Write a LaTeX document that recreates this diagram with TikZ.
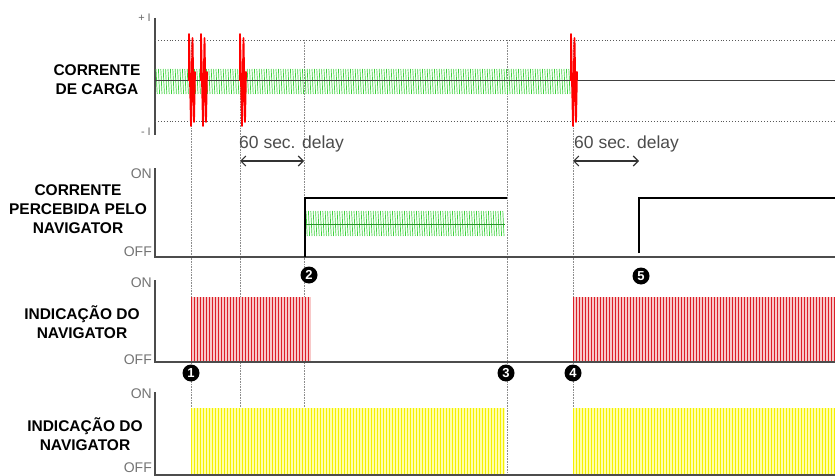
\documentclass[tikz,border=0pt]{standalone}
\usepackage{fontspec}
\setmainfont{Liberation Sans}
\usetikzlibrary{positioning,calc,arrows.meta}
\definecolor{hatchgreen}{RGB}{60,210,60}
\definecolor{barred}{RGB}{220,30,40}
\definecolor{barredbg}{RGB}{248,200,200}
\definecolor{baryellow}{RGB}{245,240,0}
\definecolor{baryellowbg}{RGB}{255,255,170}

\begin{document}
\begin{tikzpicture}[x=1pt,y=-1pt,
  lbl/.style={font=\fontsize{15.5}{19}\selectfont\bfseries, align=center, inner sep=0pt},
  onoff/.style={font=\fontsize{14}{14}\selectfont, text=black!55, anchor=east, inner sep=0pt},
  limit/.style={font=\fontsize{11}{11}\selectfont, text=black!60, anchor=east, inner sep=0pt},
  num/.style={circle, fill=black, text=white, inner sep=0pt, minimum size=17pt, font=\fontsize{13}{13}\selectfont\bfseries},
  guide/.style={black!45, densely dotted, line width=0.6pt},
  axis/.style={black!70, line width=1.2pt},
  limitline/.style={black!65, dotted, line width=0.9pt},
  delaytext/.style={font=\fontsize{17.5}{17.5}\selectfont, text=black!70, anchor=west, inner sep=0pt},
  delay/.style={black!80, line width=1.1pt, {Straight Barb[length=5pt,width=10pt]}-{Straight Barb[length=5pt,width=10pt]}},
  spike/.style={red, line width=1.8pt, line join=round},
  stepline/.style={black, line width=2.4pt},
  gstripe/.style={hatchgreen, line width=0.7pt},
  rstripe/.style={barred, line width=1.2pt},
  ystripe/.style={baryellow, line width=1.2pt}]
  \useasboundingbox (0,0) rectangle (835,476);

  % time markers shared by all traces
  \foreach \x/\g in {191/a,240/b,304/c,507/d,573/e} {
    \coordinate (top\g) at (\x,40);
    \coordinate (bot\g) at (\x,476);
    \draw[guide] (top\g) -- (bot\g);
  }

  % --- corrente de carga ---
  \node[lbl] (carga) at (97,80) {CORRENTE\\DE CARGA};
  \coordinate (ax1top) at (155,18);
  \coordinate (ax1bot) at (155,135);
  \draw[axis] (ax1top) -- (ax1bot);
  \node[limit] (plusI) at (151,18) {+ I};
  \node[limit] (minusI) at (151,132) {- I};
  \draw[limitline] (155,40) -- (835,40);
  \draw[limitline] (155,121) -- (835,121);
  \foreach \x in {156,158.4,...,572} \draw[gstripe] (\x,69) -- (\x+1.2,94);
  \draw[black!75, line width=1pt] (155,81) -- (835,81);
  \foreach \s in {189,201,240,571}
    \draw[spike] (\s,81) -- (\s,34) -- (\s+2,126) -- (\s+3.5,38) -- (\s+5,122) -- (\s+6,72) -- (\s+4,90);

  % delays
  \node[delaytext] (delay1) at (239,144) {60 sec. delay};
  \coordinate (d1a) at (240,161);
  \coordinate (d1b) at (304,161);
  \draw[delay] (d1a) -- (d1b);
  \node[delaytext] (delay2) at (574,144) {60 sec. delay};
  \coordinate (d2a) at (573,161);
  \coordinate (d2b) at (639,161);
  \draw[delay] (d2a) -- (d2b);

  % --- corrente percebida ---
  \node[lbl] (percebida) at (78,209) {CORRENTE\\PERCEBIDA PELO\\NAVIGATOR};
  \draw[axis] (155,168) |- (835,257);
  \node[onoff] (on2) at (152,174) {ON};
  \node[onoff] (off2) at (152,252) {OFF};
  \foreach \x in {306,308.4,...,505} \draw[gstripe] (\x,211) -- (\x+1.2,236);
  \draw[hatchgreen!70!black, line width=0.6pt] (306,224) -- (505,224);
  \draw[stepline] (305,257) |- (507,198);
  \draw[stepline] (639,253) |- (835,198);

  % --- indicacao (vermelho) ---
  \node[lbl] (ind1) at (82,322) {INDICAÇÃO DO\\NAVIGATOR};
  \fill[barredbg] (191,297) rectangle (311,362);
  \foreach \x in {191.6,194.6,...,311} \draw[rstripe] (\x,297) -- (\x,362);
  \fill[barredbg] (573,297) rectangle (835,362);
  \foreach \x in {573.6,576.6,...,835} \draw[rstripe] (\x,297) -- (\x,362);
  \draw[axis] (155,280) |- (835,362);
  \node[onoff] (on3) at (152,283) {ON};
  \node[onoff] (off3) at (152,360) {OFF};

  % --- indicacao (amarelo) ---
  \node[lbl] (ind2) at (85,434) {INDICAÇÃO DO\\NAVIGATOR};
  \fill[baryellowbg] (191,408) rectangle (505,476);
  \foreach \x in {191.6,194.6,...,505} \draw[ystripe] (\x,408) -- (\x,476);
  \fill[baryellowbg] (573,408) rectangle (835,476);
  \foreach \x in {573.6,576.6,...,835} \draw[ystripe] (\x,408) -- (\x,476);
  \draw[axis] (155,392) |- (835,475);
  \node[onoff] (on4) at (152,394) {ON};
  \node[onoff] (off4) at (152,468) {OFF};

  % event numbers
  \node[num] (n1) at (191,373) {1};
  \node[num] (n2) at (309,275) {2};
  \node[num] (n3) at (506,373) {3};
  \node[num] (n4) at (573,373) {4};
  \node[num] (n5) at (641,276) {5};
\end{tikzpicture}
\end{document}
